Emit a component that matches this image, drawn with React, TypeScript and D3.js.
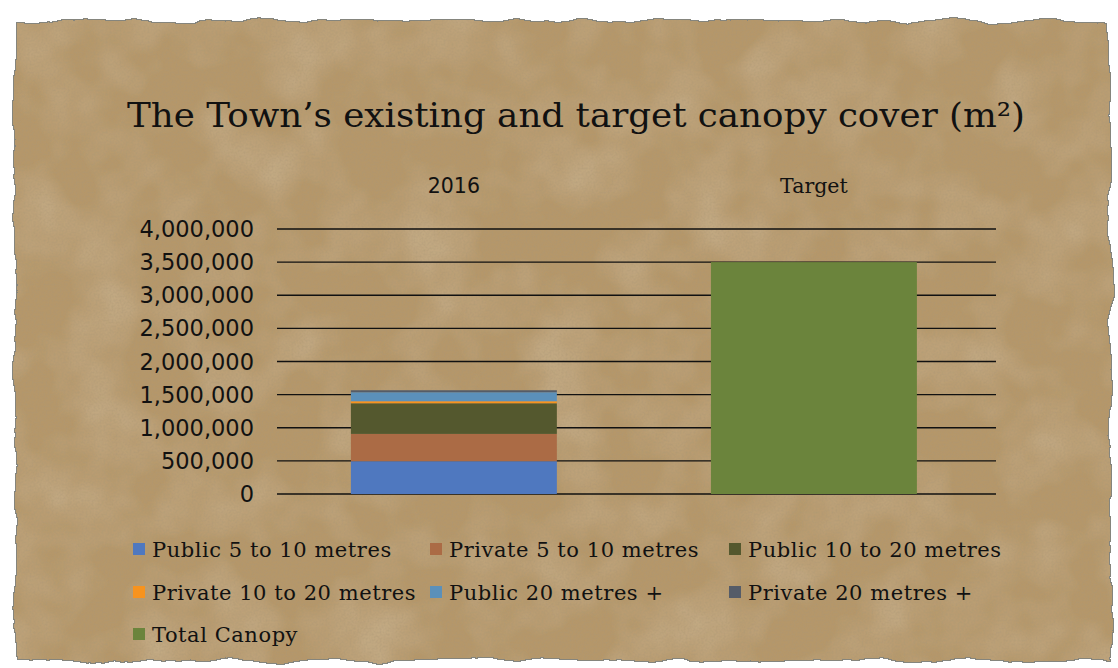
import React from "react";
import * as d3 from "d3";

const categories = ["2016", "Target"];
const seriesNames = [
  "Public 5 to 10 metres",
  "Private 5 to 10 metres",
  "Public 10 to 20 metres",
  "Private 10 to 20 metres",
  "Public 20 metres +",
  "Private 20 metres +",
  "Total Canopy",
];
const seriesColors = ["#4f78bf", "#ab6b45", "#54582e", "#f7931e", "#5b90ba", "#555c68", "#6b843c"];
const values2016 = [495000, 412000, 463000, 30000, 136000, 30000, 0];
const valuesTarget = [0, 0, 0, 0, 0, 0, 3500000];
const yTicks = [0, 500000, 1000000, 1500000, 2000000, 2500000, 3000000, 3500000, 4000000];
const title = "The Town\u2019s existing and target canopy cover (m\u00B2)";

const W = 1118;
const H = 668;
const plot = { left: 277, right: 996, top: 229, bottom: 494 };

export default function App() {
  const rows = categories.map((c, i) => {
    const vals = i === 0 ? values2016 : valuesTarget;
    const r: any = { category: c };
    seriesNames.forEach((s, j) => (r[s] = vals[j]));
    return r;
  });
  const stacked = d3.stack().keys(seriesNames)(rows);
  const x = d3
    .scaleBand()
    .domain(categories)
    .range([plot.left, plot.right])
    .paddingInner(0.428)
    .paddingOuter(0.2125)
    .align(0.483);
  const y = d3.scaleLinear().domain([0, 4000000]).range([plot.bottom, plot.top]);
  const fmt = d3.format(",");

  const legendCols = [133, 430, 729];
  const legendRows = [549, 592, 634];

  return (
    <svg
      width={W}
      height={H}
      style={{ position: "absolute", left: 0, top: 0, background: "#fff" }}
    >
      <defs>
        <filter id="paper" x="-5%" y="-5%" width="110%" height="110%">
          <feTurbulence type="fractalNoise" baseFrequency="0.02" numOctaves="4" seed="7" result="warp" />
          <feDisplacementMap in="SourceGraphic" in2="warp" scale="12" xChannelSelector="R" yChannelSelector="G" result="shape" />
          <feMorphology in="shape" operator="dilate" radius="1.4" result="fat" />
          <feFlood floodColor="#85857d" result="edgeCol" />
          <feComposite in="edgeCol" in2="fat" operator="in" result="edge" />
          <feTurbulence type="fractalNoise" baseFrequency="0.5" numOctaves="3" seed="2" result="grain" />
          <feColorMatrix
            in="grain"
            type="matrix"
            values="0 0 0 0 0.40  0 0 0 0 0.31  0 0 0 0 0.18  0.9 0 0 0 -0.34"
            result="grainCol"
          />
          <feComposite in="grainCol" in2="shape" operator="in" result="grainIn" />
          <feTurbulence type="fractalNoise" baseFrequency="0.015" numOctaves="3" seed="11" result="blotch" />
          <feColorMatrix
            in="blotch"
            type="matrix"
            values="0 0 0 0 0.80  0 0 0 0 0.69  0 0 0 0 0.50  0 0.5 0 0 -0.2"
            result="blotchCol"
          />
          <feComposite in="blotchCol" in2="shape" operator="in" result="blotchIn" />
          <feMerge>
            <feMergeNode in="edge" />
            <feMergeNode in="shape" />
            <feMergeNode in="blotchIn" />
            <feMergeNode in="grainIn" />
          </feMerge>
        </filter>
      </defs>
      <rect x={16} y={22} width={1094} height={638} fill="#b5976a" filter="url(#paper)" />

      <text
        x={576}
        y={127}
        textAnchor="middle"
        fontFamily="DejaVu Serif"
        fontSize={33}
        fill="#111"
        textLength={898}
        lengthAdjust="spacingAndGlyphs"
      >
        {title}
      </text>

      {yTicks.map((t) => (
        <g key={t}>
          <line x1={plot.left} x2={plot.right} y1={y(t)} y2={y(t)} stroke="#111" strokeWidth={1.3} />
          <text
            x={254}
            y={y(t)}
            dy="0.36em"
            textAnchor="end"
            fontFamily="DejaVu Sans"
            fontSize={22.5}
            fill="#111"
          >
            {fmt(t)}
          </text>
        </g>
      ))}

      {stacked.map((s, i) =>
        s.map((d, j) => {
          const h = y(d[0]) - y(d[1]);
          if (h <= 0) return null;
          return (
            <rect
              key={`${i}-${j}`}
              x={x(categories[j])}
              y={y(d[1])}
              width={x.bandwidth()}
              height={h}
              fill={seriesColors[i]}
            />
          );
        })
      )}

      {categories.map((c) => (
        <text
          key={c}
          x={(x(c) as number) + x.bandwidth() / 2}
          y={193}
          textAnchor="middle"
          fontFamily={/^\d+$/.test(c) ? "DejaVu Sans" : "DejaVu Serif"}
          fontSize={20.5}
          fill="#111"
        >
          {c}
        </text>
      ))}

      {seriesNames.map((s, i) => {
        const cx = legendCols[i % 3];
        const cy = legendRows[Math.floor(i / 3)];
        return (
          <g key={s}>
            <rect x={cx} y={cy - 6} width={12} height={12} fill={seriesColors[i]} />
            <text
              x={cx + 19}
              y={cy + 8}
              fontFamily="DejaVu Serif"
              fontSize={21}
              letterSpacing={0.55}
              fill="#111"
            >
              {s}
            </text>
          </g>
        );
      })}
    </svg>
  );
}
